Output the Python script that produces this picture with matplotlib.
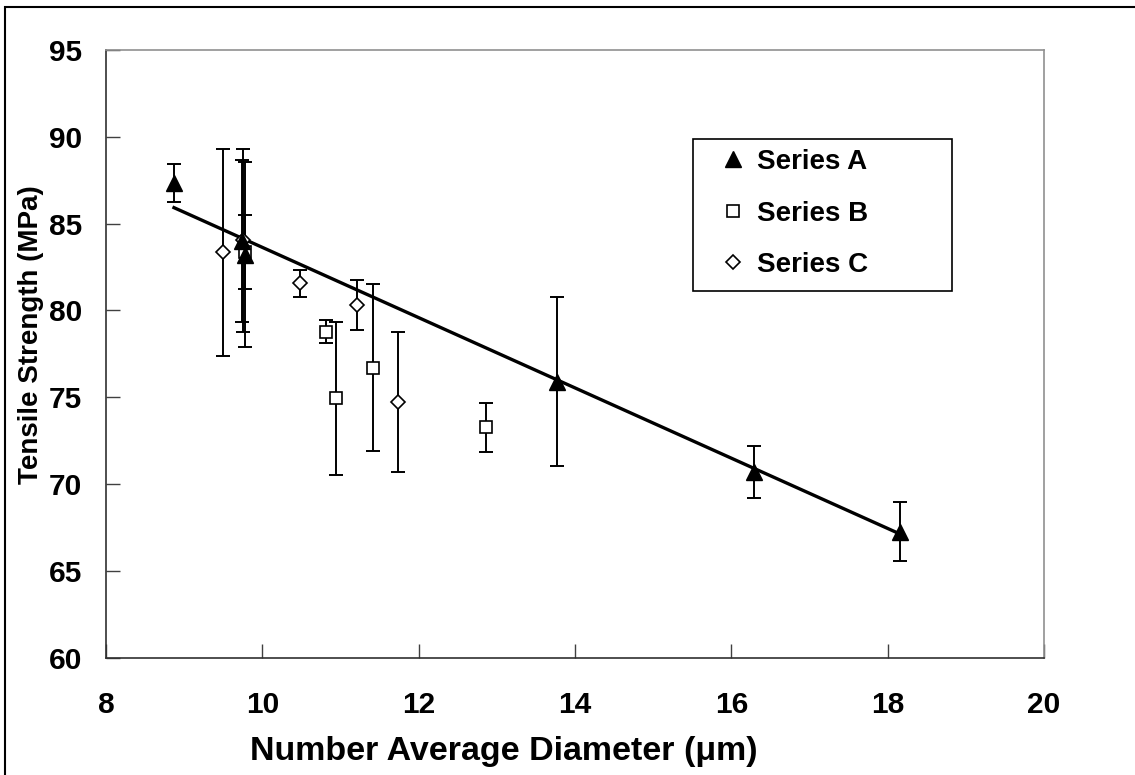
import numpy as np
import matplotlib
matplotlib.use("Agg")
from matplotlib import pyplot as plt
from matplotlib.lines import Line2D
from matplotlib.patches import Rectangle

plt.rcParams['font.family'] = ['Liberation Sans', 'DejaVu Sans']
plt.rcParams['font.weight'] = 'bold'

# Series A (filled triangles)
a_x = [8.87, 9.735, 9.78, 13.77, 16.29, 18.16]
a_y = [87.32, 84.0, 83.22, 75.9, 70.71, 67.25]
a_err = [1.1, 4.65, 5.35, 4.86, 1.5, 1.7]

# Series B (open squares)
b_x = [9.78, 10.82, 10.94, 11.42, 12.86]
b_y = [83.36, 78.78, 74.93, 76.7, 73.27]
b_err = [2.15, 0.65, 4.4, 4.8, 1.4]

# Series C (open diamonds)
c_x = [9.50, 9.75, 10.48, 11.21, 11.74]
c_y = [83.35, 84.04, 81.56, 80.31, 74.7]
c_err = [5.95, 5.26, 0.76, 1.44, 4.03]

# linear trend line drawn over series A
trend_x = [8.87, 18.16]
trend_y = [85.92, 67.12]

W, H = 1135, 775
fig = plt.figure(figsize=(W / 100, H / 100), dpi=100)
ax = fig.add_axes([106 / W, 1 - 657.7 / H, (1044 - 106) / W, (657.7 - 50) / H])

ekw = dict(fmt='none', ecolor='black', elinewidth=1.4, capsize=5, capthick=1.4, zorder=2)
ax.errorbar(c_x, c_y, yerr=c_err, **ekw)
ax.errorbar(b_x, b_y, yerr=b_err, **ekw)
ax.errorbar(a_x, a_y, yerr=a_err, **ekw)

ax.plot(trend_x, trend_y, color='black', lw=2.4, zorder=3)

ax.plot(c_x, c_y, 'D', ms=7.2, mfc='white', mec='black', mew=1.2, ls='none', zorder=4)
ax.plot(b_x, b_y, 's', ms=8.6, mfc='white', mec='black', mew=1.2, ls='none', zorder=4)
ax.plot(a_x, a_y, '^', ms=11, mfc='black', mec='black', ls='none', zorder=5)

ax.set_xlim(8, 20)
ax.set_ylim(60, 95)
ax.set_xticks(np.arange(8, 21, 2))
ax.set_yticks(np.arange(60, 96, 5))
ax.tick_params(direction='in', length=10, width=1, colors='#404040', labelcolor='black',
               labelsize=21.5)
ax.tick_params(axis='x', pad=24)
ax.tick_params(axis='y', pad=17)
for lab in ax.get_xticklabels() + ax.get_yticklabels():
    lab.set_fontweight('bold')

for s in ['left', 'bottom']:
    ax.spines[s].set_color('#303030')
    ax.spines[s].set_linewidth(1.2)
for s in ['top', 'right']:
    ax.spines[s].set_color('#909090')
    ax.spines[s].set_linewidth(1.2)

ax.set_xlabel('Number Average Diameter (\u03bcm)', fontsize=24.5, fontweight='bold')
ax.set_ylabel('Tensile Strength (MPa)', fontsize=20, fontweight='bold')
ax.xaxis.set_label_coords((504 - 106) / 938, -(736 - 657.7) / 607.7)
ax.yaxis.set_label_coords((18 - 106) / 938, (657.7 - 335) / 607.7)
ax.yaxis.label.set_va('top')

handles = [
    Line2D([], [], marker='^', ms=11, mfc='black', mec='black', ls='none'),
    Line2D([], [], marker='s', ms=8.6, mfc='white', mec='black', mew=1.2, ls='none'),
    Line2D([], [], marker='D', ms=7.2, mfc='white', mec='black', mew=1.2, ls='none'),
]
leg = fig.legend(handles, ['Series A', 'Series B', 'Series C'],
                 loc='upper left', bbox_to_anchor=(719 / W, 1 - 149 / H),
                 fontsize=20, frameon=False,
                 handlelength=1.0, handletextpad=0.36, labelspacing=0.92,
                 borderpad=0, borderaxespad=0)
for t in leg.get_texts():
    t.set_fontweight('bold')

# legend box, wider than its entries as in the original
fig.add_artist(Rectangle((693 / W, 1 - 291 / H), (952 - 693) / W, (291 - 139) / H,
                         transform=fig.transFigure, fill=False, edgecolor='black', lw=1.2))

# outer border (only the left and top edges fall inside the picture)
fig.add_artist(Rectangle((5 / W, -0.05), 1.2, 1 - 7 / H + 0.05, transform=fig.transFigure,
                         fill=False, edgecolor='black', lw=1.5))

fig.savefig('out.png', dpi=100)
